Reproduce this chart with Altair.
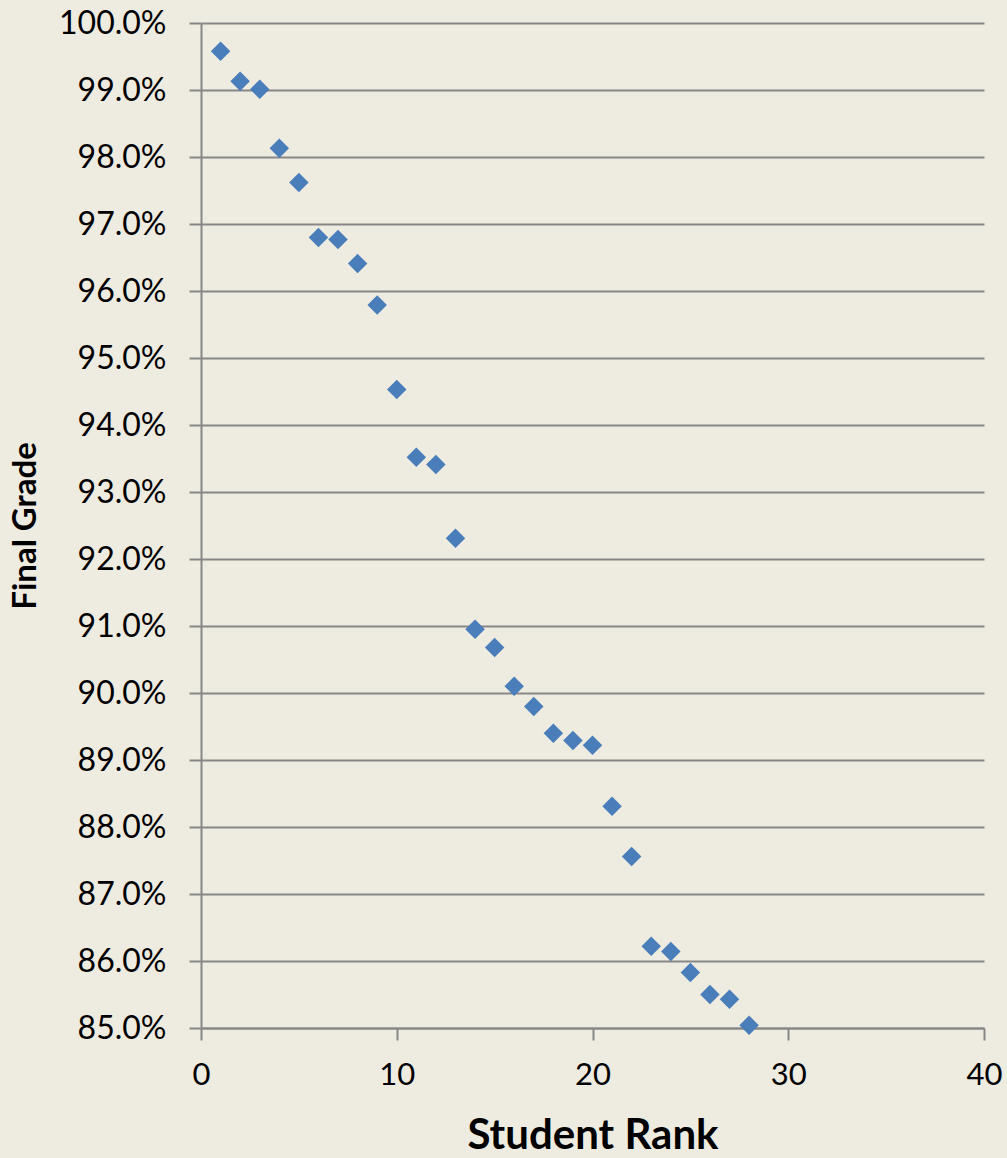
import altair as alt
import pandas as pd

# Final grade of each student, ordered by rank
ranks = list(range(1, 29))
grades = [99.58, 99.13, 99.01, 98.13, 97.62, 96.80, 96.77, 96.41, 95.79, 94.53,
          93.52, 93.41, 92.31, 90.95, 90.68, 90.10, 89.80, 89.40, 89.29, 89.22,
          88.31, 87.56, 86.22, 86.14, 85.83, 85.50, 85.43, 85.04]

y_ticks = [0.85 + i * 0.01 for i in range(16)]
x_ticks = [0, 10, 20, 30, 40]

df = pd.DataFrame({"rank": ranks, "grade": [g / 100 for g in grades]})

FONT = "Lato"
GRID = "#878787"

chart = (
    alt.Chart(df)
    .mark_point(shape="diamond", filled=True, size=380, color="#4A7EBB", opacity=1)
    .encode(
        x=alt.X(
            "rank:Q",
            title="Student Rank",
            scale=alt.Scale(domain=[0, 40], nice=False, zero=False),
            axis=alt.Axis(
                values=x_ticks,
                grid=False,
                labelFlush=False,
                tickSize=12,
                tickColor=GRID,
                tickWidth=2,
                domainColor=GRID,
                domainWidth=2,
                labelFont=FONT,
                labelFontSize=31,
                labelColor="#000000",
                labelPadding=20,
                titleFont=FONT,
                titleFontSize=42,
                titleFontWeight="bold",
                titleColor="#000000",
                titlePadding=25,
            ),
        ),
        y=alt.Y(
            "grade:Q",
            title="Final Grade",
            scale=alt.Scale(domain=[0.85, 1.0], nice=False, zero=False),
            axis=alt.Axis(
                values=y_ticks,
                format=".1%",
                grid=True,
                labelFlush=False,
                gridColor=GRID,
                gridWidth=2,
                tickSize=12,
                tickColor=GRID,
                tickWidth=2,
                domainColor=GRID,
                domainWidth=2,
                labelFont=FONT,
                labelFontSize=32,
                labelColor="#000000",
                labelPadding=23,
                titleFont=FONT,
                titleFontSize=33,
                titleFontWeight="bold",
                titleColor="#000000",
                titlePadding=16,
            ),
        ),
    )
    .properties(
        width=783,
        height=1005,
        background="#EEEBE0",
        autosize=alt.AutoSizeParams(type="none"),
        padding={"left": 201, "top": 23, "right": 23, "bottom": 130},
    )
    .configure_view(strokeOpacity=0)
)

chart.save("out.html", embed_options={"renderer": "svg", "actions": False})
